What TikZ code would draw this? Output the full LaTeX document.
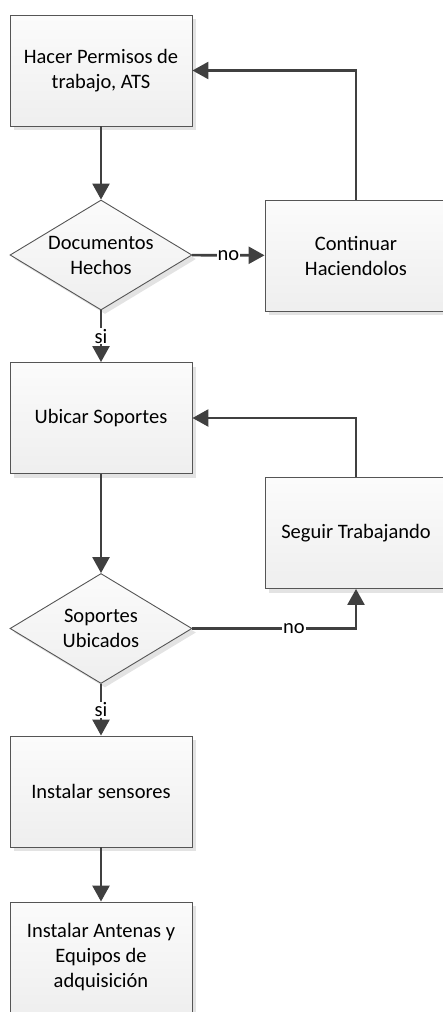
\documentclass[tikz,border=0pt]{standalone}
\usepackage{fontspec}
\setmainfont{Carlito}
\usetikzlibrary{shapes.geometric,arrows.meta,shadows}
\definecolor{linegray}{HTML}{404040}
\definecolor{edgegray}{HTML}{555555}
\begin{document}
\begin{tikzpicture}[x=1pt,y=-1pt,
        paso/.style={rectangle, draw=edgegray, line width=0.9pt,
            top color=white!97!gray, bottom color=gray!13,
            minimum width=182pt, minimum height=111pt, align=center,
            drop shadow={shadow xshift=4pt, shadow yshift=-4pt, fill=gray!22, opacity=1}},
        pregunta/.style={diamond, draw=edgegray, line width=0.9pt,
            top color=white!97!gray, bottom color=gray!13,
            minimum width=182pt, minimum height=110pt, inner sep=0pt,
            drop shadow={shadow xshift=4pt, shadow yshift=-4pt, fill=gray!22, opacity=1}},
        flecha/.style={draw=linegray, line width=2.6pt,
            -{Triangle[length=16pt,width=17pt]}},
        etiqueta/.style={fill=white, inner sep=1pt, text=black},
        font=\fontsize{20.5}{25}\selectfont]
    \useasboundingbox (0,0) rectangle (442,1012);
    \node (1)[paso] at (101,70.5) {Hacer Permisos de\\trabajo, ATS};
    \node (2)[pregunta, label={[align=center]center:Documentos\\Hechos}] at (101,255) {};
    \node (3)[paso] at (356,255.5) {Continuar\\Haciendolos};
    \node (4)[paso] at (101,418) {Ubicar Soportes};
    \node (5)[paso] at (356,533) {Seguir Trabajando};
    \node (6)[pregunta, label={[align=center]center:Soportes\\Ubicados}] at (101,628.5) {};
    \node (7)[paso] at (101,791.5) {Instalar sensores};
    \node (8)[paso] at (101,957.5) {Instalar Antenas y\\Equipos de\\adquisición};
    \draw[flecha] (1)--(2);
    \draw[flecha] (2)--(3) node[etiqueta, midway]{no};
    \draw[flecha] (3.north) |- (1.east);
    \draw[flecha] (2)--(4) node[etiqueta, midway]{si};
    \draw[flecha] (4)--(6);
    \draw[flecha] (6.east) -| (5.south) node[etiqueta, pos=0.31]{no};
    \draw[flecha] (5.north) |- (4.east);
    \draw[flecha] (6)--(7) node[etiqueta, midway]{si};
    \draw[flecha] (7)--(8);
\end{tikzpicture}
\end{document}
